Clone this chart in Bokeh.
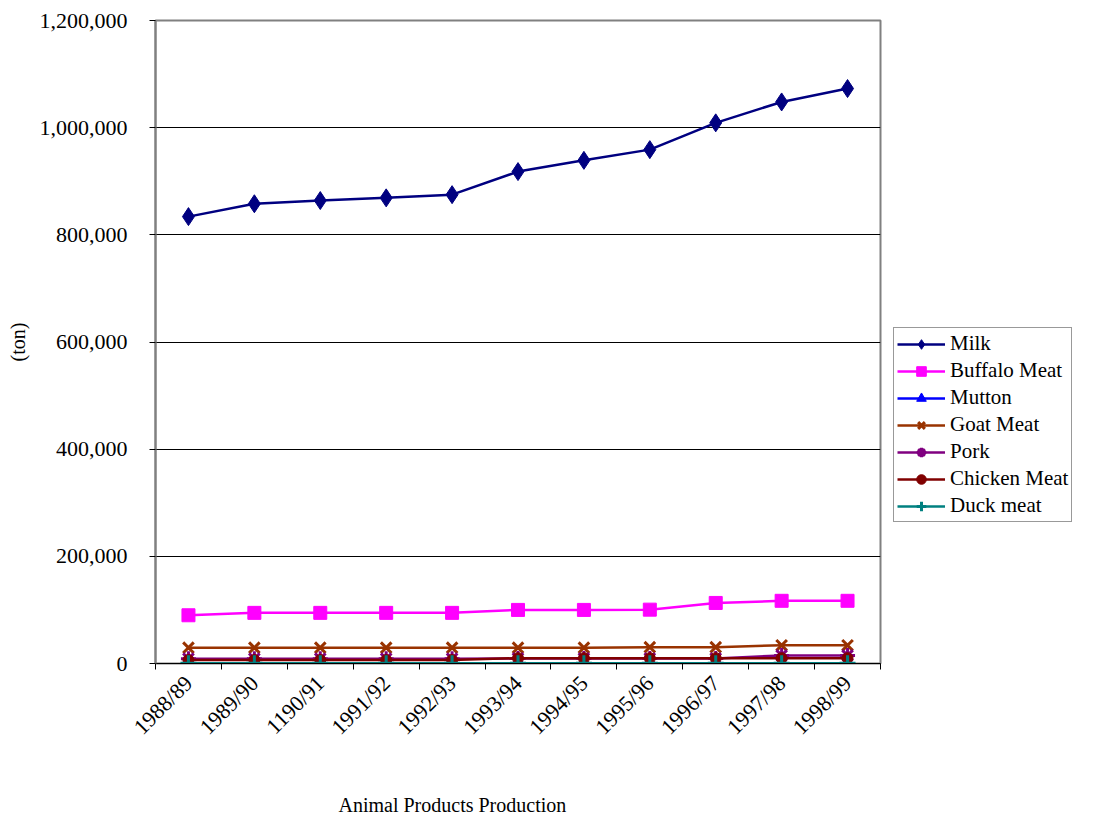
from bokeh.plotting import figure
from bokeh.models import (Range1d, FixedTicker, NumeralTickFormatter, Legend,
                          LegendItem, Title)
from bokeh.embed import file_html
from bokeh.resources import INLINE
import math

# Production by season (tons)
seasons = ["1988/89", "1989/90", "1190/91", "1991/92", "1992/93", "1993/94",
           "1994/95", "1995/96", "1996/97", "1997/98", "1998/99"]
milk = [834000, 858000, 864000, 869000, 875000, 918000, 939000, 959000,
        1009000, 1048000, 1073000]
buffalo_meat = [90000, 94500, 94500, 94500, 94500, 100000, 100000, 100500,
                113000, 117000, 117000]
mutton = [300, 300, 300, 300, 300, 300, 300, 300, 300, 300, 300]
goat_meat = [29500, 29500, 29500, 29500, 29500, 29500, 29500, 30500, 30500,
             34000, 34000]
pork = [9000, 9000, 9000, 9000, 9000, 9500, 9500, 9500, 9500, 15000, 15000]
chicken_meat = [6500, 6500, 6500, 6500, 6500, 10000, 10000, 10000, 10000,
                10000, 10000]
duck_meat = [500, 500, 500, 500, 500, 500, 500, 500, 500, 500, 500]

series = [
    ("Milk", milk, "#000080", "diamond", 18),
    ("Buffalo Meat", buffalo_meat, "#FF00FF", "square", 13),
    ("Mutton", mutton, "#0000FF", "triangle", 15),
    ("Goat Meat", goat_meat, "#993300", "x", 15),
    ("Pork", pork, "#800080", "asterisk", 15),
    ("Chicken Meat", chicken_meat, "#800000", "circle", 11),
    ("Duck meat", duck_meat, "#008080", "cross", 16),
]

FONT = "Liberation Serif"
FS = "22px"
n = len(seasons)
xs = [i + 0.5 for i in range(n)]

p = figure(width=1093, height=823, frame_width=725, frame_height=643,
           x_range=Range1d(0, n), y_range=Range1d(0, 1200000),
           output_backend="svg", toolbar_location=None,
           min_border_left=155, min_border_top=20, min_border_right=0,
           min_border_bottom=0)
p.background_fill_color = "white"
p.border_fill_color = "white"
p.outline_line_color = "#808080"
p.outline_line_width = 2

items = []
for name, vals, color, marker, size in series:
    ln = p.line(xs, vals, line_color=color, line_width=2.5)
    if marker in ("x", "asterisk", "cross"):
        sc = p.scatter(xs, vals, marker=marker, size=size, line_color=color,
                       line_width=3, fill_color=color)
    else:
        sc = p.scatter(xs, vals, marker=marker, size=size, line_color=color,
                       fill_color=color)
    items.append(LegendItem(label=name, renderers=[ln, sc]))

# x axis: labels at category centres, tick marks at category boundaries
xax = p.xaxis[0]
xax.ticker = FixedTicker(ticks=xs, minor_ticks=list(range(n + 1)))
xax.major_label_overrides = {x: s for x, s in zip(xs, seasons)}
xax.major_label_orientation = math.pi / 4
xax.major_tick_line_color = None
xax.minor_tick_line_color = "black"
xax.minor_tick_out = 6
xax.minor_tick_in = 0
xax.axis_line_color = "black"
xax.major_label_text_font = FONT
xax.major_label_text_font_size = FS
xax.major_label_text_color = "black"
xax.major_label_standoff = 10

yax = p.yaxis[0]
yax.ticker = FixedTicker(ticks=[0, 200000, 400000, 600000, 800000, 1000000, 1200000])
yax.formatter = NumeralTickFormatter(format="0,0")
yax.minor_tick_line_color = None
yax.major_tick_out = 6
yax.major_tick_in = 0
yax.major_tick_line_color = "black"
yax.axis_line_color = "#808080"
yax.axis_line_width = 2
yax.major_label_text_font = FONT
yax.major_label_text_font_size = FS
yax.major_label_text_color = "black"
yax.major_label_standoff = 22
yax.axis_label = "(ton)"
yax.axis_label_text_font = FONT
yax.axis_label_text_font_size = "20px"
yax.axis_label_text_font_style = "normal"
yax.axis_label_text_color = "black"
yax.axis_label_standoff = 8

p.xgrid.grid_line_color = None
p.ygrid.grid_line_color = "black"
p.ygrid.grid_line_width = 1

legend = Legend(items=items, location=(13, 141),
                border_line_color="#333333", border_line_width=1,
                label_text_font=FONT, label_text_font_size="21px",
                label_text_color="black", glyph_width=48, glyph_height=24,
                spacing=2, padding=3, label_standoff=5,
                background_fill_color="white", margin=0)
p.add_layout(legend, "right")

p.add_layout(Title(text="Animal Products Production", align="left",
                   offset=183, text_font=FONT, text_font_size="20px",
                   text_font_style="normal", text_color="black",
                   standoff=81), "below")

open("out.html", "w").write(file_html(p, INLINE))
